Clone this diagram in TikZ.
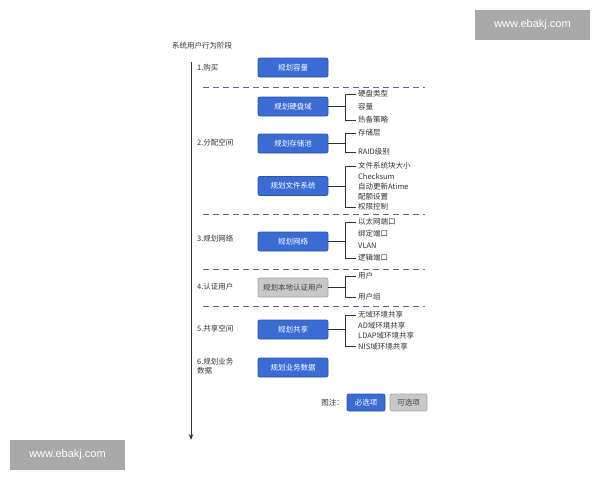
\documentclass[tikz,border=0pt]{standalone}
\usepackage{fontspec}
\setmainfont{Noto Sans CJK SC}
\newfontfamily\wmfont{Liberation Sans}
\usetikzlibrary{arrows.meta}
\definecolor{boxblue}{HTML}{3A6CD4}
\definecolor{boxedge}{HTML}{2A55A8}
\definecolor{optfill}{HTML}{C8C8C8}
\definecolor{optedge}{HTML}{A8A8A8}
\definecolor{dashcol}{HTML}{6060A8}
\definecolor{wmgray}{HTML}{A9A9A9}
\begin{document}
\begin{tikzpicture}[x=1pt,y=-1pt,
  reqbox/.style={rectangle,rounded corners=2pt,fill=boxblue,draw=boxedge,line width=0.8pt,minimum width=70pt,minimum height=19pt,text=white,font=\fontsize{7.5}{8}\selectfont,inner sep=1pt},
  optbox/.style={reqbox,fill=optfill,draw=optedge,text=black!75},
  item/.style={anchor=west,inner sep=1pt,font=\fontsize{7.5}{8}\selectfont,text=black!80},
  stage/.style={anchor=west,inner sep=0pt,font=\fontsize{7.5}{9}\selectfont,text=black!80,align=left},
  sep/.style={dashcol,line width=0.9pt,dash pattern=on 6pt off 4pt},
  br/.style={black!80,line width=0.9pt},
  wm/.style={fill=wmgray,text=white,font=\wmfont\fontsize{11}{12}\selectfont,minimum width=115pt,minimum height=30pt,inner sep=0pt}
]
\useasboundingbox (0,0) rectangle (600,480);
\fill[white] (0,0) rectangle (600,480);

% watermarks
\node[wm] (wm1) at (532.5,25) {www.ebakj.com};
\node[wm] (wm2) at (67.5,455) {www.ebakj.com};

% title and axis
\node[anchor=west,inner sep=0pt,font=\fontsize{7.5}{8}\selectfont,text=black!80] (title) at (172,46) {系统用户行为阶段};
\coordinate (axtop) at (191,62);
\coordinate (axbot) at (191,440);
\draw[black!80,line width=0.9pt,-{Stealth[length=6pt,width=4.5pt]}] (axtop) -- (axbot);

% separators
\foreach \y/\n in {87/s1,214/s2,269/s3,306/s4}{
  \coordinate (\n a) at (203,\y); \coordinate (\n b) at (425,\y);
  \draw[sep] (\n a) -- (\n b);
}

% stage labels
\node[stage] (st1) at (197,68) {1.购买};
\node[stage] (st2) at (197,143) {2.分配空间};
\node[stage] (st3) at (197,239) {3.规划网络};
\node[stage] (st4) at (197,287) {4.认证用户};
\node[stage] (st5) at (197,329) {5.共享空间};
\node[stage] (st6) at (197,366) {6.规划业务\\数据};

% boxes
\node[reqbox] (b1) at (293,67.5) {规划容量};
\node[reqbox] (b2) at (293,106.5) {规划硬盘域};
\node[reqbox] (b3) at (293,143.5) {规划存储池};
\node[reqbox] (b4) at (293,186) {规划文件系统};
\node[reqbox] (b5) at (293,241.5) {规划网络};
\node[optbox] (b6) at (293,287.5) {规划本地认证用户};
\node[reqbox] (b7) at (293,329.5) {规划共享};
\node[reqbox] (b8) at (293,367.5) {规划业务数据};

\coordinate (kx) at (345,0);

% items
\node[item] (i21) at (357,94) {硬盘类型};
\node[item] (i22) at (357,107) {容量};
\node[item] (i23) at (357,120) {热备策略};
\node[item] (i31) at (357,133) {存储层};
\node[item] (i32) at (357,152) {RAID级别};
\node[item] (i41) at (357,166) {文件系统块大小};
\node[item] (i42) at (357,176.5) {Checksum};
\node[item] (i43) at (357,186.5) {自动更新Atime};
\node[item] (i44) at (357,197) {配额设置};
\node[item] (i45) at (357,207) {权限控制};
\node[item] (i51) at (357,222) {以太网端口};
\node[item] (i52) at (357,234) {绑定端口};
\node[item] (i53) at (357,245.5) {VLAN};
\node[item] (i54) at (357,258) {逻辑端口};
\node[item] (i61) at (357,276) {用户};
\node[item] (i62) at (357,297) {用户组};
\node[item] (i71) at (357,315) {无域环境共享};
\node[item] (i72) at (357,325.5) {AD域环境共享};
\node[item] (i73) at (357,336) {LDAP域环境共享};
\node[item] (i74) at (357,346.5) {NIS域环境共享};

% brackets
\foreach \b/\t/\u in {b2/i21/i23,b3/i31/i32,b4/i41/i45,b5/i51/i54,b6/i61/i62,b7/i71/i74}{
  \draw[br] (\b.east) -- (\b.east -| kx);
  \draw[br] ([xshift=-1pt]\t.west) -- (\t.west -| kx) -- (\u.west -| kx) -- ([xshift=-1pt]\u.west);
}

% legend
\node[anchor=east,inner sep=0pt,font=\fontsize{7.5}{8}\selectfont,text=black!80] (lg) at (344,403) {图注：};
\node[reqbox,minimum width=38pt,minimum height=17pt] (lg1) at (366,402.5) {必选项};
\node[optbox,minimum width=37pt,minimum height=17pt] (lg2) at (408.5,402.5) {可选项};
\end{tikzpicture}
\end{document}
